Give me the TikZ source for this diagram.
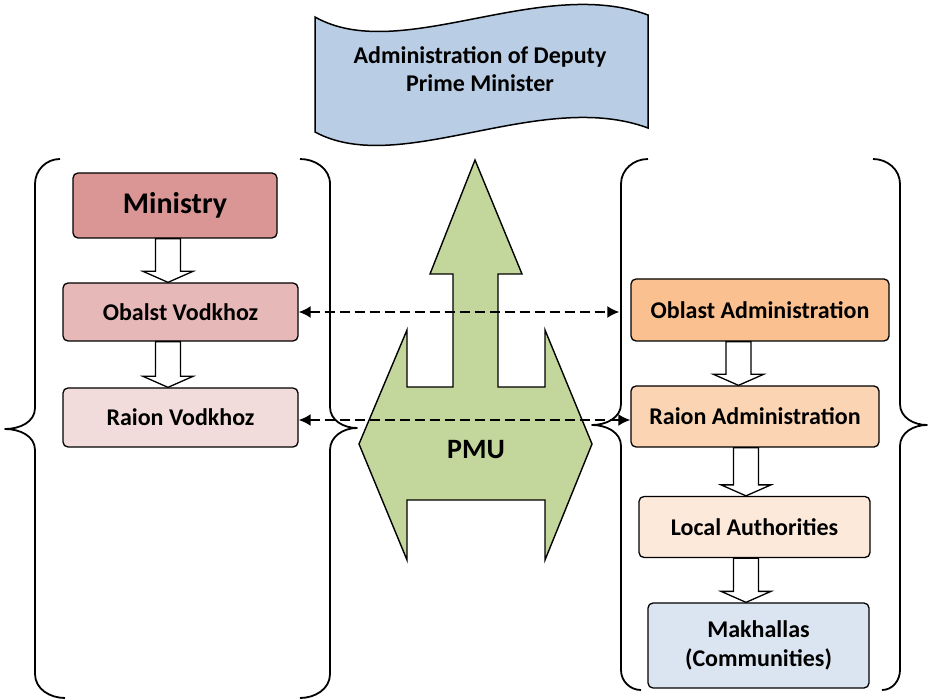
\documentclass[tikz,border=0pt]{standalone}
\usepackage{fontspec}
\setmainfont{Carlito}
\usetikzlibrary{arrows.meta,calc}

\definecolor{ministryred}{RGB}{217,150,148}
\definecolor{vodkhozred}{RGB}{230,185,184}
\definecolor{raionred}{RGB}{242,220,219}
\definecolor{oblastorange}{RGB}{250,192,144}
\definecolor{raionorange}{RGB}{251,212,180}
\definecolor{localorange}{RGB}{253,233,217}
\definecolor{makhallablue}{RGB}{219,229,241}
\definecolor{bannerblue}{RGB}{185,205,229}
\definecolor{pmugreen}{RGB}{195,214,155}

\tikzset{
  unit/.style={draw, line width=1.3pt, rounded corners=5pt, inner sep=0pt, align=center,
    font=\bfseries\fontsize{24}{29}\selectfont},
  brace/.style={line width=1.8pt, line join=round},
  link/.style={line width=2pt, dash pattern=on 10pt off 5pt,
    {Latex[length=12pt,width=12pt]}-{Latex[length=12pt,width=12pt]}},
  hollow/.style={draw, fill=white, line width=1.3pt, line join=miter,
    to path={let \p1=(\tikztostart), \p2=(\tikztotarget) in
      (\x1-12.5pt,\y1) -- (\x1+12.5pt,\y1) -- (\x1+12.5pt,\y2+11pt) -- (\x1+25pt,\y2+11pt)
      -- (\x1,\y2) -- (\x1-25pt,\y2+11pt) -- (\x1-12.5pt,\y2+11pt) -- cycle}}
}

\begin{document}
\begin{tikzpicture}[x=1pt, y=-1pt]
    \useasboundingbox (0,0) rectangle (929,700);
    % banner
    \draw [fill=bannerblue, line width=1.5pt]
      (315,17) .. controls (400,65) and (540,-25) .. (648,15)
      -- (648,128) .. controls (540,88) and (400,178) .. (315,132) -- cycle;
    \node [font=\bfseries\fontsize{24}{28}\selectfont, align=center] (dpm) at (480,69)
      {Administration of Deputy\\Prime Minister};
    % PMU
    \draw [fill=pmugreen, line width=1.4pt, line join=miter]
      (475,160) -- (522,274) -- (498,274) -- (498,387) -- (545,387) -- (545,330)
      -- (592,444) -- (545,560) -- (545,500) -- (407,500) -- (407,560) -- (359,444)
      -- (407,330) -- (407,387) -- (453,387) -- (453,274) -- (430,274) -- cycle;
    \node [font=\bfseries\fontsize{28}{32}\selectfont] (pmu) at (476,450) {PMU};
    % braces, left group
    \draw [brace] (60,159) to[out=180,in=90] (35,184) -- (35,408) to[out=-90,in=0] (5,429)
      to[out=0,in=90] (35,450) -- (35,674) to[out=-90,in=180] (65,698);
    \draw [brace] (300,159) to[out=0,in=90] (330,184) -- (330,407) to[out=-90,in=180] (357,428)
      to[out=180,in=90] (330,450) -- (330,674) to[out=-90,in=0] (300,698);
    % braces, right group
    \draw [brace] (648,159) to[out=180,in=90] (621,184) -- (621,404) to[out=-90,in=0] (592,425)
      to[out=0,in=90] (621,446) -- (621,670) to[out=-90,in=180] (641,690);
    \draw [brace] (873,159) to[out=0,in=90] (900,184) -- (900,404) to[out=-90,in=180] (927,425)
      to[out=180,in=90] (900,446) -- (900,670) to[out=-90,in=0] (882,690);
    % left group
    \node [unit, fill=ministryred, minimum width=204pt, minimum height=65pt,
      font=\bfseries\fontsize{30}{34}\selectfont] (min) at (175,205.5) {Ministry};
    \node [unit, fill=vodkhozred, minimum width=235pt, minimum height=58pt] (ov) at (180.5,312) {Obalst Vodkhoz};
    \node [unit, fill=raionred, minimum width=235pt, minimum height=59pt] (rv) at (180.5,417.5) {Raion Vodkhoz};
    % right group
    \node [unit, fill=oblastorange, minimum width=258pt, minimum height=62pt] (oa) at (760,310) {Oblast Administration};
    \node [unit, fill=raionorange, minimum width=248pt, minimum height=61pt] (ra) at (755,416.5) {Raion Administration};
    \node [unit, fill=localorange, minimum width=231pt, minimum height=61pt] (la) at (754.5,527) {Local Authorities};
    \node [unit, fill=makhallablue, minimum width=221pt, minimum height=85pt] (mk) at (758.5,645.5) {Makhallas\\(Communities)};
    % down arrows
    \draw [hollow] ([xshift=-7pt]min.south) to (ov.north);
    \draw [hollow] ([xshift=-12.5pt]ov.south) to (rv.north);
    \draw [hollow] ([xshift=-21.5pt]oa.south) to (ra.north);
    \draw [hollow] ([xshift=-9pt]ra.south) to (la.north);
    \draw [hollow] ([xshift=-8.5pt]la.south) to (mk.north);
    % links
    \draw [link] (ov.east) -- ([xshift=-11pt]ov.east -| oa.west);
    \draw [link] ([yshift=-2.5pt]rv.east) -- ([yshift=-2.5pt]rv.east -| ra.west);
  \end{tikzpicture}
\end{document}
